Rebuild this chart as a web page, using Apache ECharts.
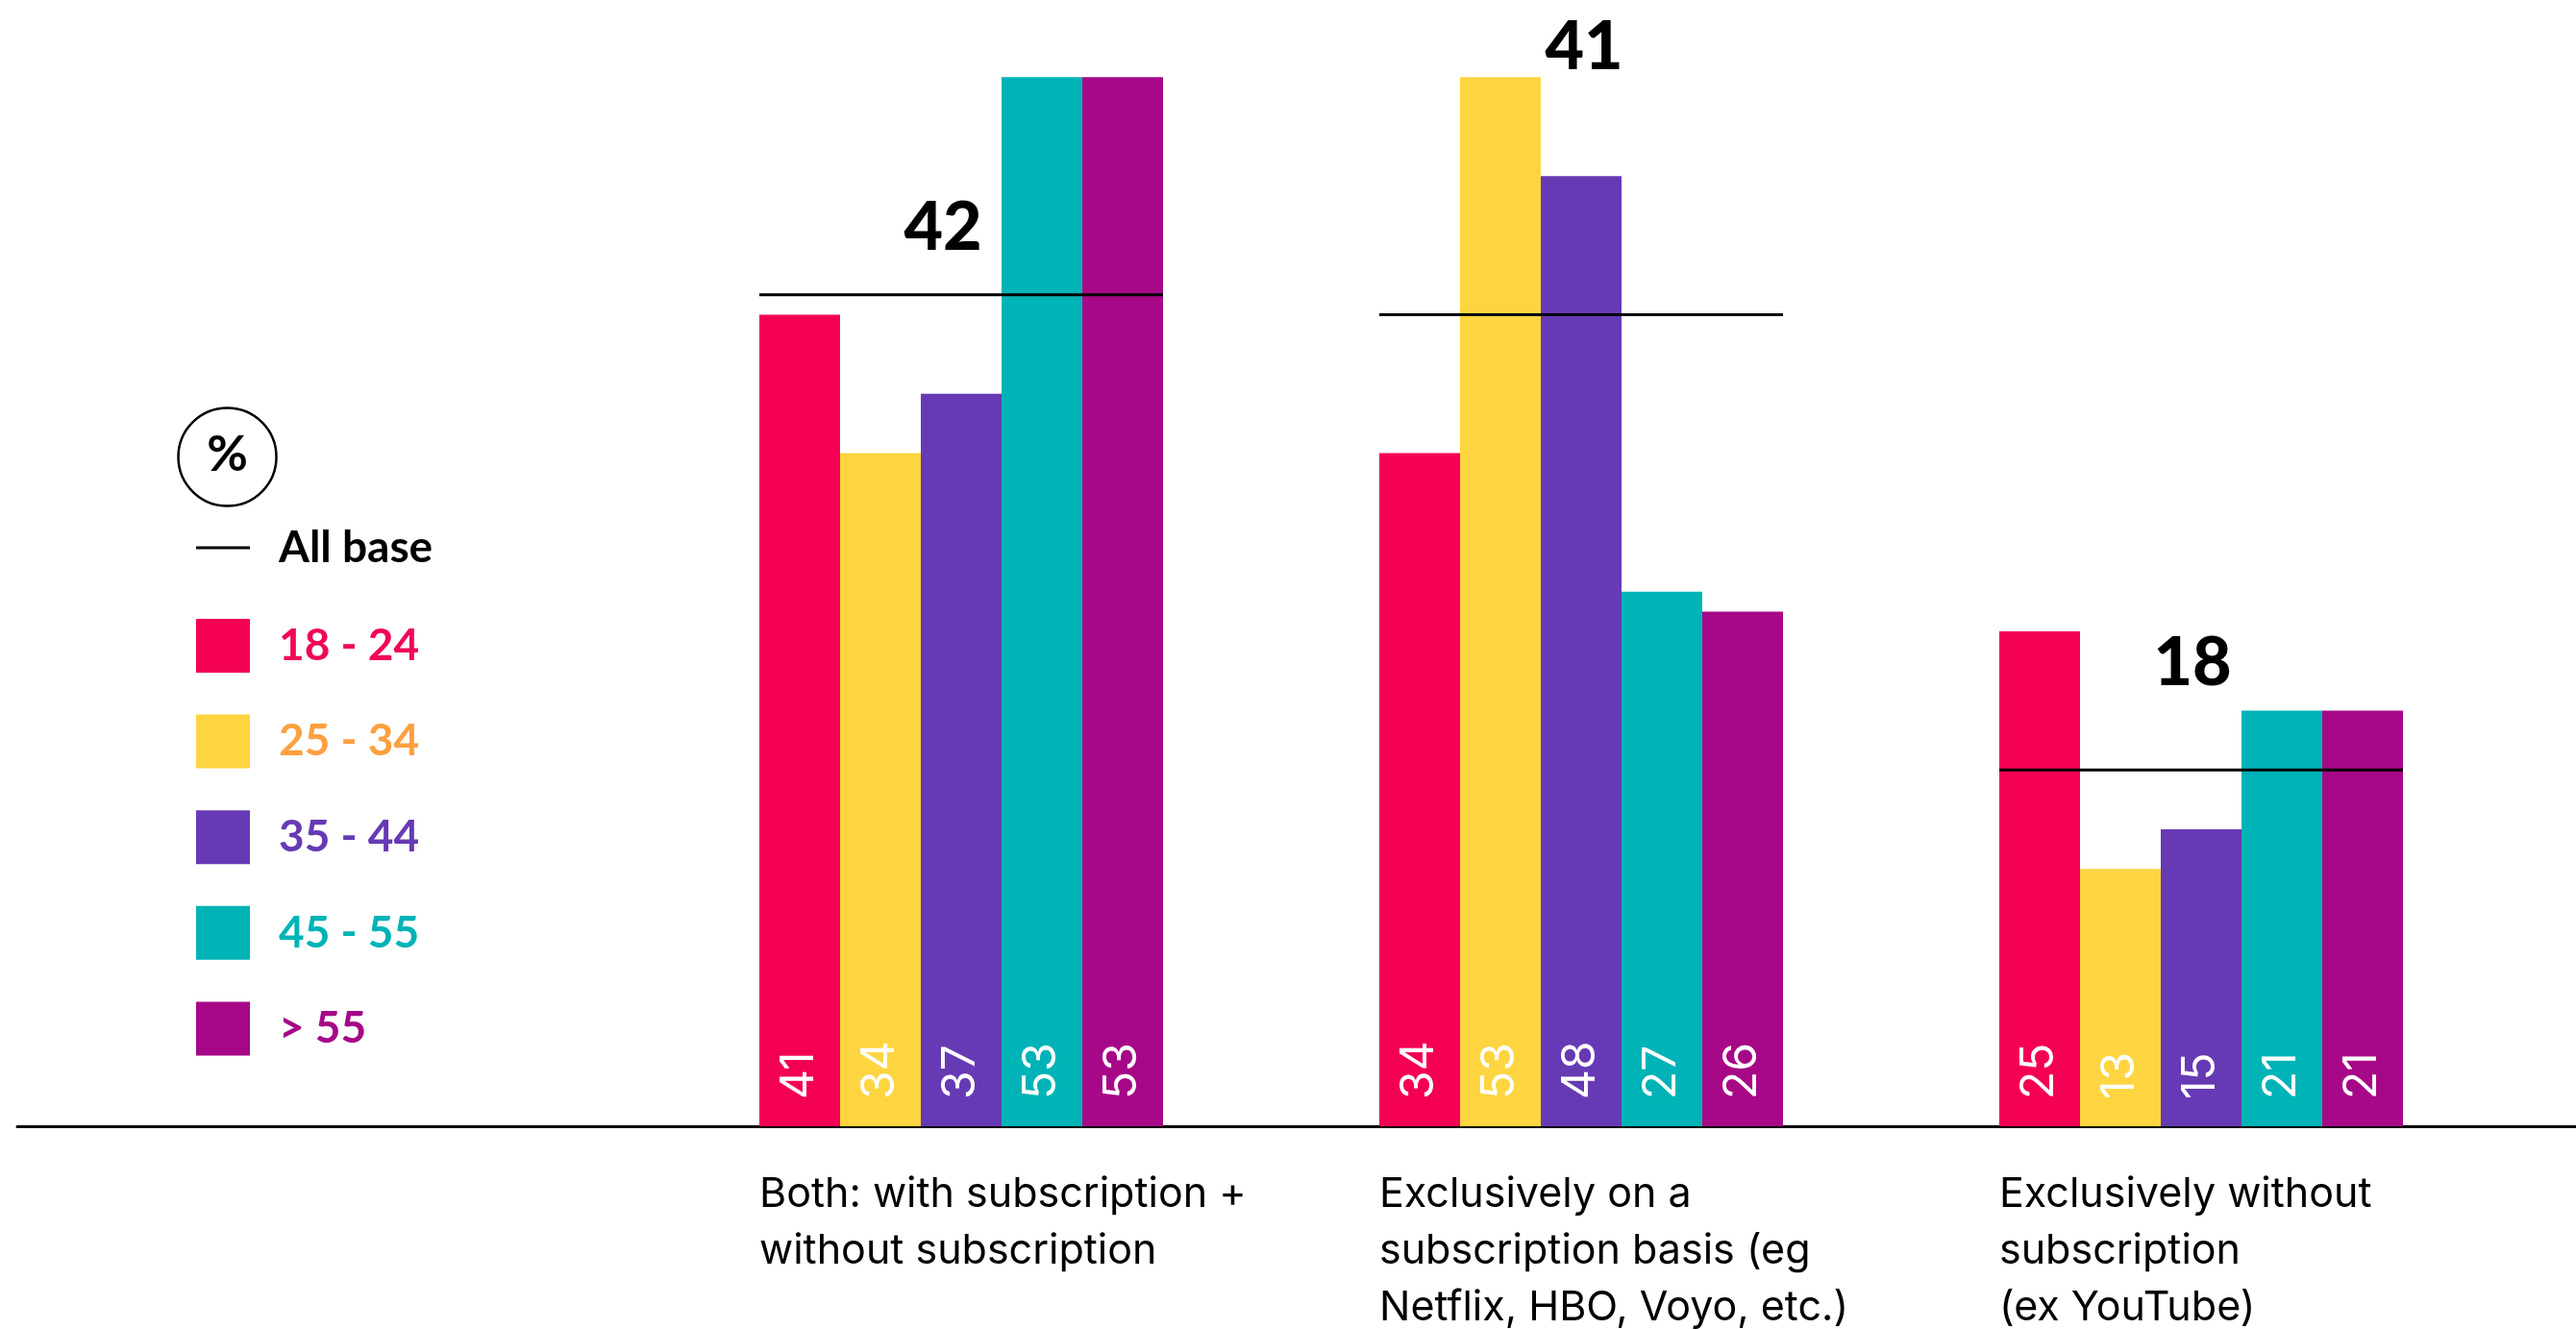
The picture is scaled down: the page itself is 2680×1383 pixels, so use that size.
<!DOCTYPE html>
<html>
<head>
<meta charset="utf-8">
<script src="https://cdn.jsdelivr.net/npm/echarts@6/dist/echarts.min.js"></script>
<style>
  html, body { margin: 0; padding: 0; background: #fff; }
  #chart { width: 2680px; height: 1383px; }
</style>
</head>
<body>
<div id="chart"></div>
<script>
// Viewing mode by age group, % of respondents
const categories = [
  'Both: with subscription +\nwithout subscription',
  'Exclusively on a\nsubscription basis (eg\nNetflix, HBO, Voyo, etc.)',
  'Exclusively without\nsubscription\n(ex YouTube)'
];
const ageGroups = ['18 - 24', '25 - 34', '35 - 44', '45 - 55', '> 55'];
const age18to24 = [41, 34, 25];
const age25to34 = [34, 53, 13];
const age35to44 = [37, 48, 15];
const age45to55 = [53, 27, 21];
const ageOver55 = [53, 26, 21];
const allBase = [42, 41, 18];

const seriesValues = [age18to24, age25to34, age35to44, age45to55, ageOver55];
const barColors = ['#F30054', '#FED541', '#663AB4', '#00B3B6', '#A60887'];
const legendTextColors = ['#F0065A', '#FFA040', '#663AB4', '#00B3B6', '#A60887'];
const BAR_W = 84;
// where each "All base" figure sits relative to its reference line
const baseLabelShift = [[-19, -69], [3, -278], [-9, -111]];

const chart = echarts.init(document.getElementById('chart'));

const barSeries = ageGroups.map((name, i) => ({
  name: name,
  type: 'bar',
  data: seriesValues[i],
  barWidth: BAR_W,
  barGap: 0,
  itemStyle: { color: barColors[i] },
  label: {
    show: true,
    position: 'insideBottom',
    rotate: 90,
    align: 'left',
    verticalAlign: 'middle',
    distance: 28,
    color: '#fff',
    fontSize: 48,
    fontFamily: 'Inter'
  },
  z: 2
}));

const baseSeries = {
  name: 'All base',
  type: 'custom',
  clip: false,
  z: 5,
  itemStyle: { color: '#000' },
  data: allBase.map((v, i) => [i, v]),
  renderItem: function (params, api) {
    const p = api.coord([api.value(0), api.value(1)]);
    const half = BAR_W * ageGroups.length / 2;
    const shift = baseLabelShift[params.dataIndex];
    return {
      type: 'group',
      children: [
        {
          type: 'line',
          shape: { x1: p[0] - half, y1: p[1], x2: p[0] + half, y2: p[1] },
          style: { stroke: '#000', lineWidth: 3 }
        },
        {
          type: 'text',
          x: p[0] + shift[0],
          y: p[1] + shift[1],
          style: {
            text: String(api.value(1)),
            fill: '#000',
            fontSize: 70,
            fontWeight: 900,
            fontFamily: 'Lato',
            align: 'center',
            verticalAlign: 'middle'
          }
        }
      ]
    };
  }
};

const legendText = {
  fontSize: 46,
  fontWeight: 'bold',
  fontFamily: 'Lato',
  padding: [0, 0, 0, 25]
};

chart.setOption({
  backgroundColor: '#fff',
  animation: false,
  grid: [
    { left: 677.5, right: 67.5, top: 39, bottom: 211 },
    { left: 18, right: 0, top: 39, bottom: 211 }
  ],
  xAxis: [
    {
      type: 'category',
      gridIndex: 0,
      data: categories,
      axisLine: { show: false },
      axisTick: { show: false },
      axisLabel: {
        interval: 0,
        margin: 42,
        align: 'center',
        formatter: function (v) {
          return v.split('\n').map(l => '{t|' + l + '}').join('\n');
        },
        rich: {
          t: {
            width: 420,
            align: 'left',
            fontSize: 43,
            lineHeight: 59,
            fontFamily: 'Inter',
            color: '#000'
          }
        }
      }
    },
    {
      type: 'value',
      gridIndex: 1,
      min: 0,
      max: 1,
      axisLine: { show: true, onZero: false, lineStyle: { color: '#000', width: 3 } },
      axisTick: { show: false },
      axisLabel: { show: false },
      splitLine: { show: false }
    }
  ],
  yAxis: [
    { type: 'value', gridIndex: 0, min: 0, max: 55, show: false },
    { type: 'value', gridIndex: 1, min: 0, max: 1, show: false }
  ],
  legend: [
    {
      orient: 'vertical',
      left: 204,
      top: 547,
      padding: 0,
      itemWidth: 56,
      itemHeight: 56,
      selectedMode: false,
      textStyle: legendText,
      data: [{ name: 'All base', icon: 'path://M0 0H56V3H0Z', textStyle: { color: '#000' } }]
    },
    {
      orient: 'vertical',
      left: 204,
      top: 644,
      padding: 0,
      itemWidth: 56,
      itemHeight: 56,
      itemGap: 43.6,
      selectedMode: false,
      textStyle: legendText,
      data: ageGroups.map((n, i) => ({ name: n, icon: 'rect', textStyle: { color: legendTextColors[i] } }))
    }
  ],
  graphic: [
    {
      type: 'group',
      left: 183,
      top: 422,
      children: [
        { type: 'circle', shape: { cx: 52, cy: 52, r: 51 }, style: { fill: 'none', stroke: '#000', lineWidth: 2.5 } },
        {
          type: 'text', x: 52, y: 50,
          style: { text: '%', fontSize: 52, fontWeight: 'bold', fontFamily: 'Lato', fill: '#000', align: 'center', verticalAlign: 'middle' }
        }
      ]
    }
  ],
  series: barSeries.concat([baseSeries])
});
</script>
</body>
</html>
